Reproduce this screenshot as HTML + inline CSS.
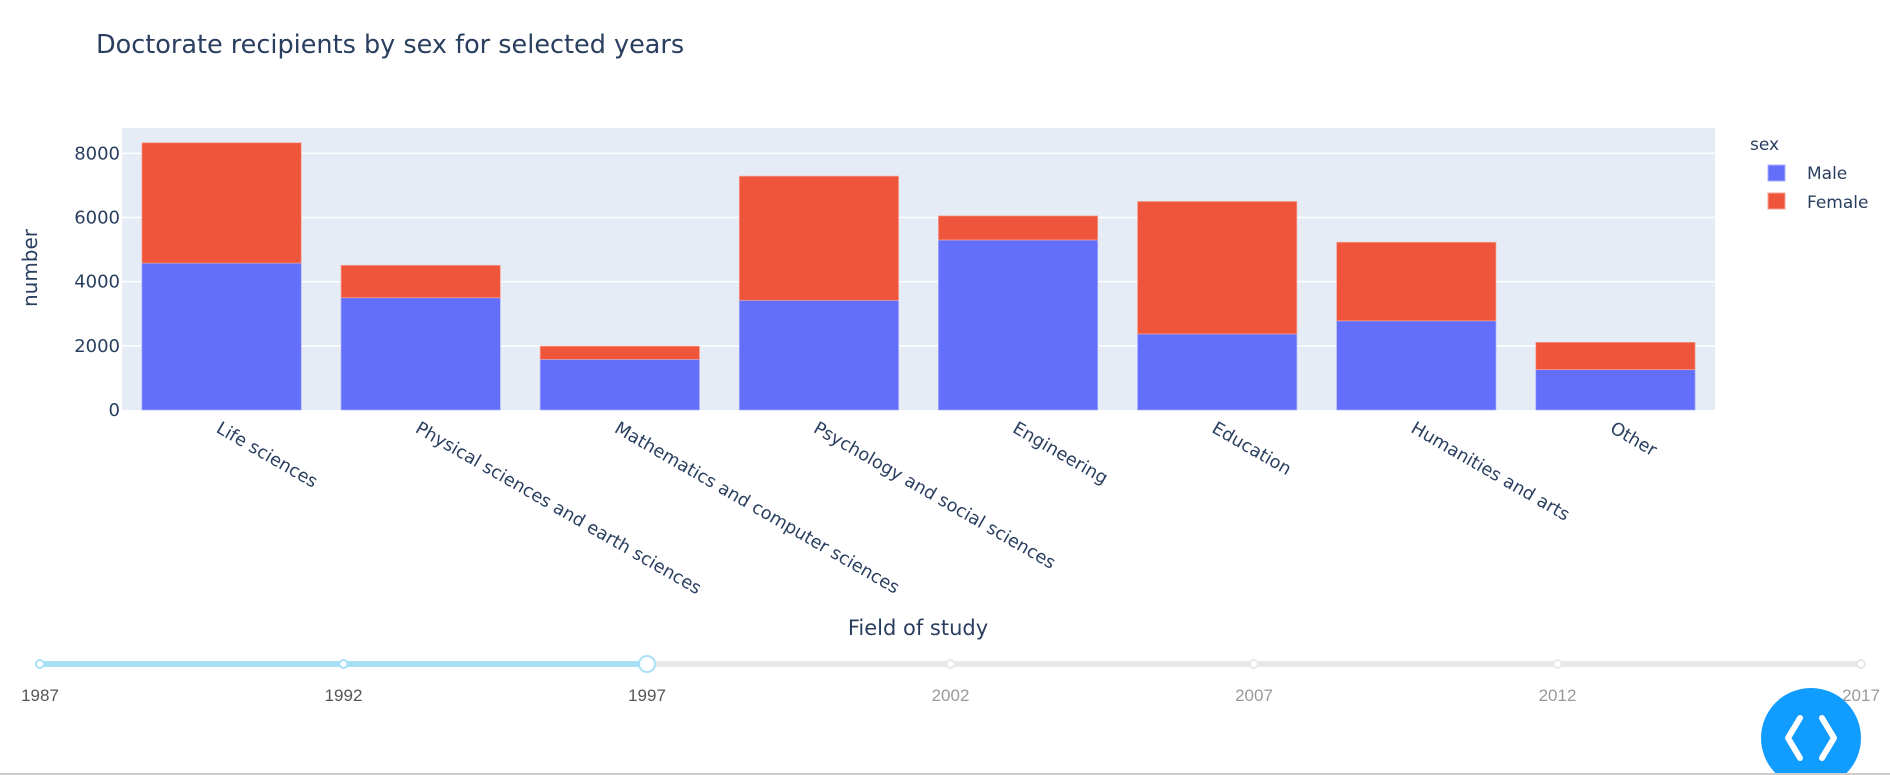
<!DOCTYPE html>
<html><head><meta charset="utf-8"><style>
body{margin:0;background:#fff;font-family:"DejaVu Sans",sans-serif;}
svg{display:block}
text{font-family:"DejaVu Sans",sans-serif;fill:#2a3f5f}
</style></head><body>
<svg id="c" width="1890" height="775">
<text x="96" y="53" font-size="25.5">Doctorate recipients by sex for selected years</text>
<rect x="122" y="128" width="1593" height="282" fill="#e5ecf6"/>
<g id="grid"></g><g id="bars"></g><g id="xt"></g>
<text x="37" y="268" font-size="20" text-anchor="middle" transform="rotate(-90 37 268)">number</text>
<text x="918" y="635" font-size="21" text-anchor="middle">Field of study</text>
<g>
<text x="1750" y="150" font-size="17">sex</text>
<g><rect x="1768" y="165" width="17" height="16" fill="#636efa" stroke="#a9b0fd"/><text x="1807" y="179" font-size="17">Male</text></g>
<g><rect x="1768" y="193" width="17" height="16" fill="#ef553b" stroke="#f5a595"/><text x="1807" y="208" font-size="17">Female</text></g>
</g>
<g id="slider"></g>
<g>
<circle cx="1811" cy="738" r="50" fill="#119dff"/>
<path d="M1800 718 L1788 738 L1800 758 M1822 718 L1834 738 L1822 758" stroke="#fff" stroke-width="6" fill="none" stroke-linecap="round" stroke-linejoin="round"/>
</g>
<line x1="0" y1="774" x2="1890" y2="774" stroke="#ccc" stroke-width="2"/>
</svg>
<script>
const categories=["Life sciences","Physical sciences and earth sciences","Mathematics and computer sciences","Psychology and social sciences","Engineering","Education","Humanities and arts","Other"];
const male=[4580,3500,1580,3420,5300,2370,2780,1260];
const female=[3750,1010,410,3870,750,4130,2450,850];
const yTicks=[0,2000,4000,6000,8000];
const years=[1987,1992,1997,2002,2007,2012,2017];
const activeYear=1997;
const NS="http://www.w3.org/2000/svg";
function mk(t,a,p){const e=document.createElementNS(NS,t);for(const k in a)e.setAttribute(k,a[k]);p.appendChild(e);return e;}
const L=122,R=1715,T=128,B=410,ymax=8790;
const y=v=>B-v/ymax*(B-T);
const bw=(R-L)/categories.length;
const x=i=>L+bw*(i+0.5);
const g=document.getElementById('grid');
yTicks.forEach(v=>{
 if(v>0){const l=mk('line',{x1:L,x2:R,y1:y(v),y2:y(v),stroke:'#fff','stroke-width':1.5},g);
 
 }
 const t=mk('text',{x:L-2,y:y(v)+6,'font-size':'18','text-anchor':'end'},g);t.textContent=v;
 
 
});
const bg=document.getElementById('bars');const xt=document.getElementById('xt');
categories.forEach((c,i)=>{
 const w=bw*0.8,x0=x(i)-w/2;
 const m=mk('rect',{x:x0,y:y(male[i]),width:w,height:B-y(male[i]),fill:'#636efa',stroke:'#a9b0fd','stroke-width':0.7},bg);
 
 
 const tot=male[i]+female[i];
 const f=mk('rect',{x:x0,y:y(tot),width:w,height:y(male[i])-y(tot),fill:'#ef553b',stroke:'#f5a595','stroke-width':0.7},bg);
 
 
 const t=mk('text',{x:x(i)-1,y:B+23,'font-size':'17.7',transform:`rotate(30 ${x(i)-1} ${B+12})`},xt);t.textContent=c;
 
 
});
const s=document.getElementById('slider');
const sx0=40,sx1=1861,sy=664;
const sx=yr=>sx0+(yr-years[0])/(years[years.length-1]-years[0])*(sx1-sx0);
mk('line',{x1:sx0,x2:sx1,y1:sy,y2:sy,stroke:'#e8e8e8','stroke-width':6},s);
mk('line',{x1:sx0,x2:sx(activeYear),y1:sy,y2:sy,stroke:'#a8e0f8','stroke-width':6},s);
years.forEach(yr=>{
 const on=yr<=activeYear;
 const c=mk('circle',{cx:sx(yr),cy:sy,r:yr===activeYear?8:4,fill:'#fff',stroke:on?'#a8e0f8':'#e8e8e8','stroke-width':2},s);
 
 
 const t=mk('text',{x:sx(yr),y:701,'font-size':'17','text-anchor':'middle'},s);t.textContent=yr;
 t.style.fill=on?'#555':'#999';
 t.style.fontFamily='"Liberation Sans",sans-serif';
 
 
});
</script>
</body></html>
